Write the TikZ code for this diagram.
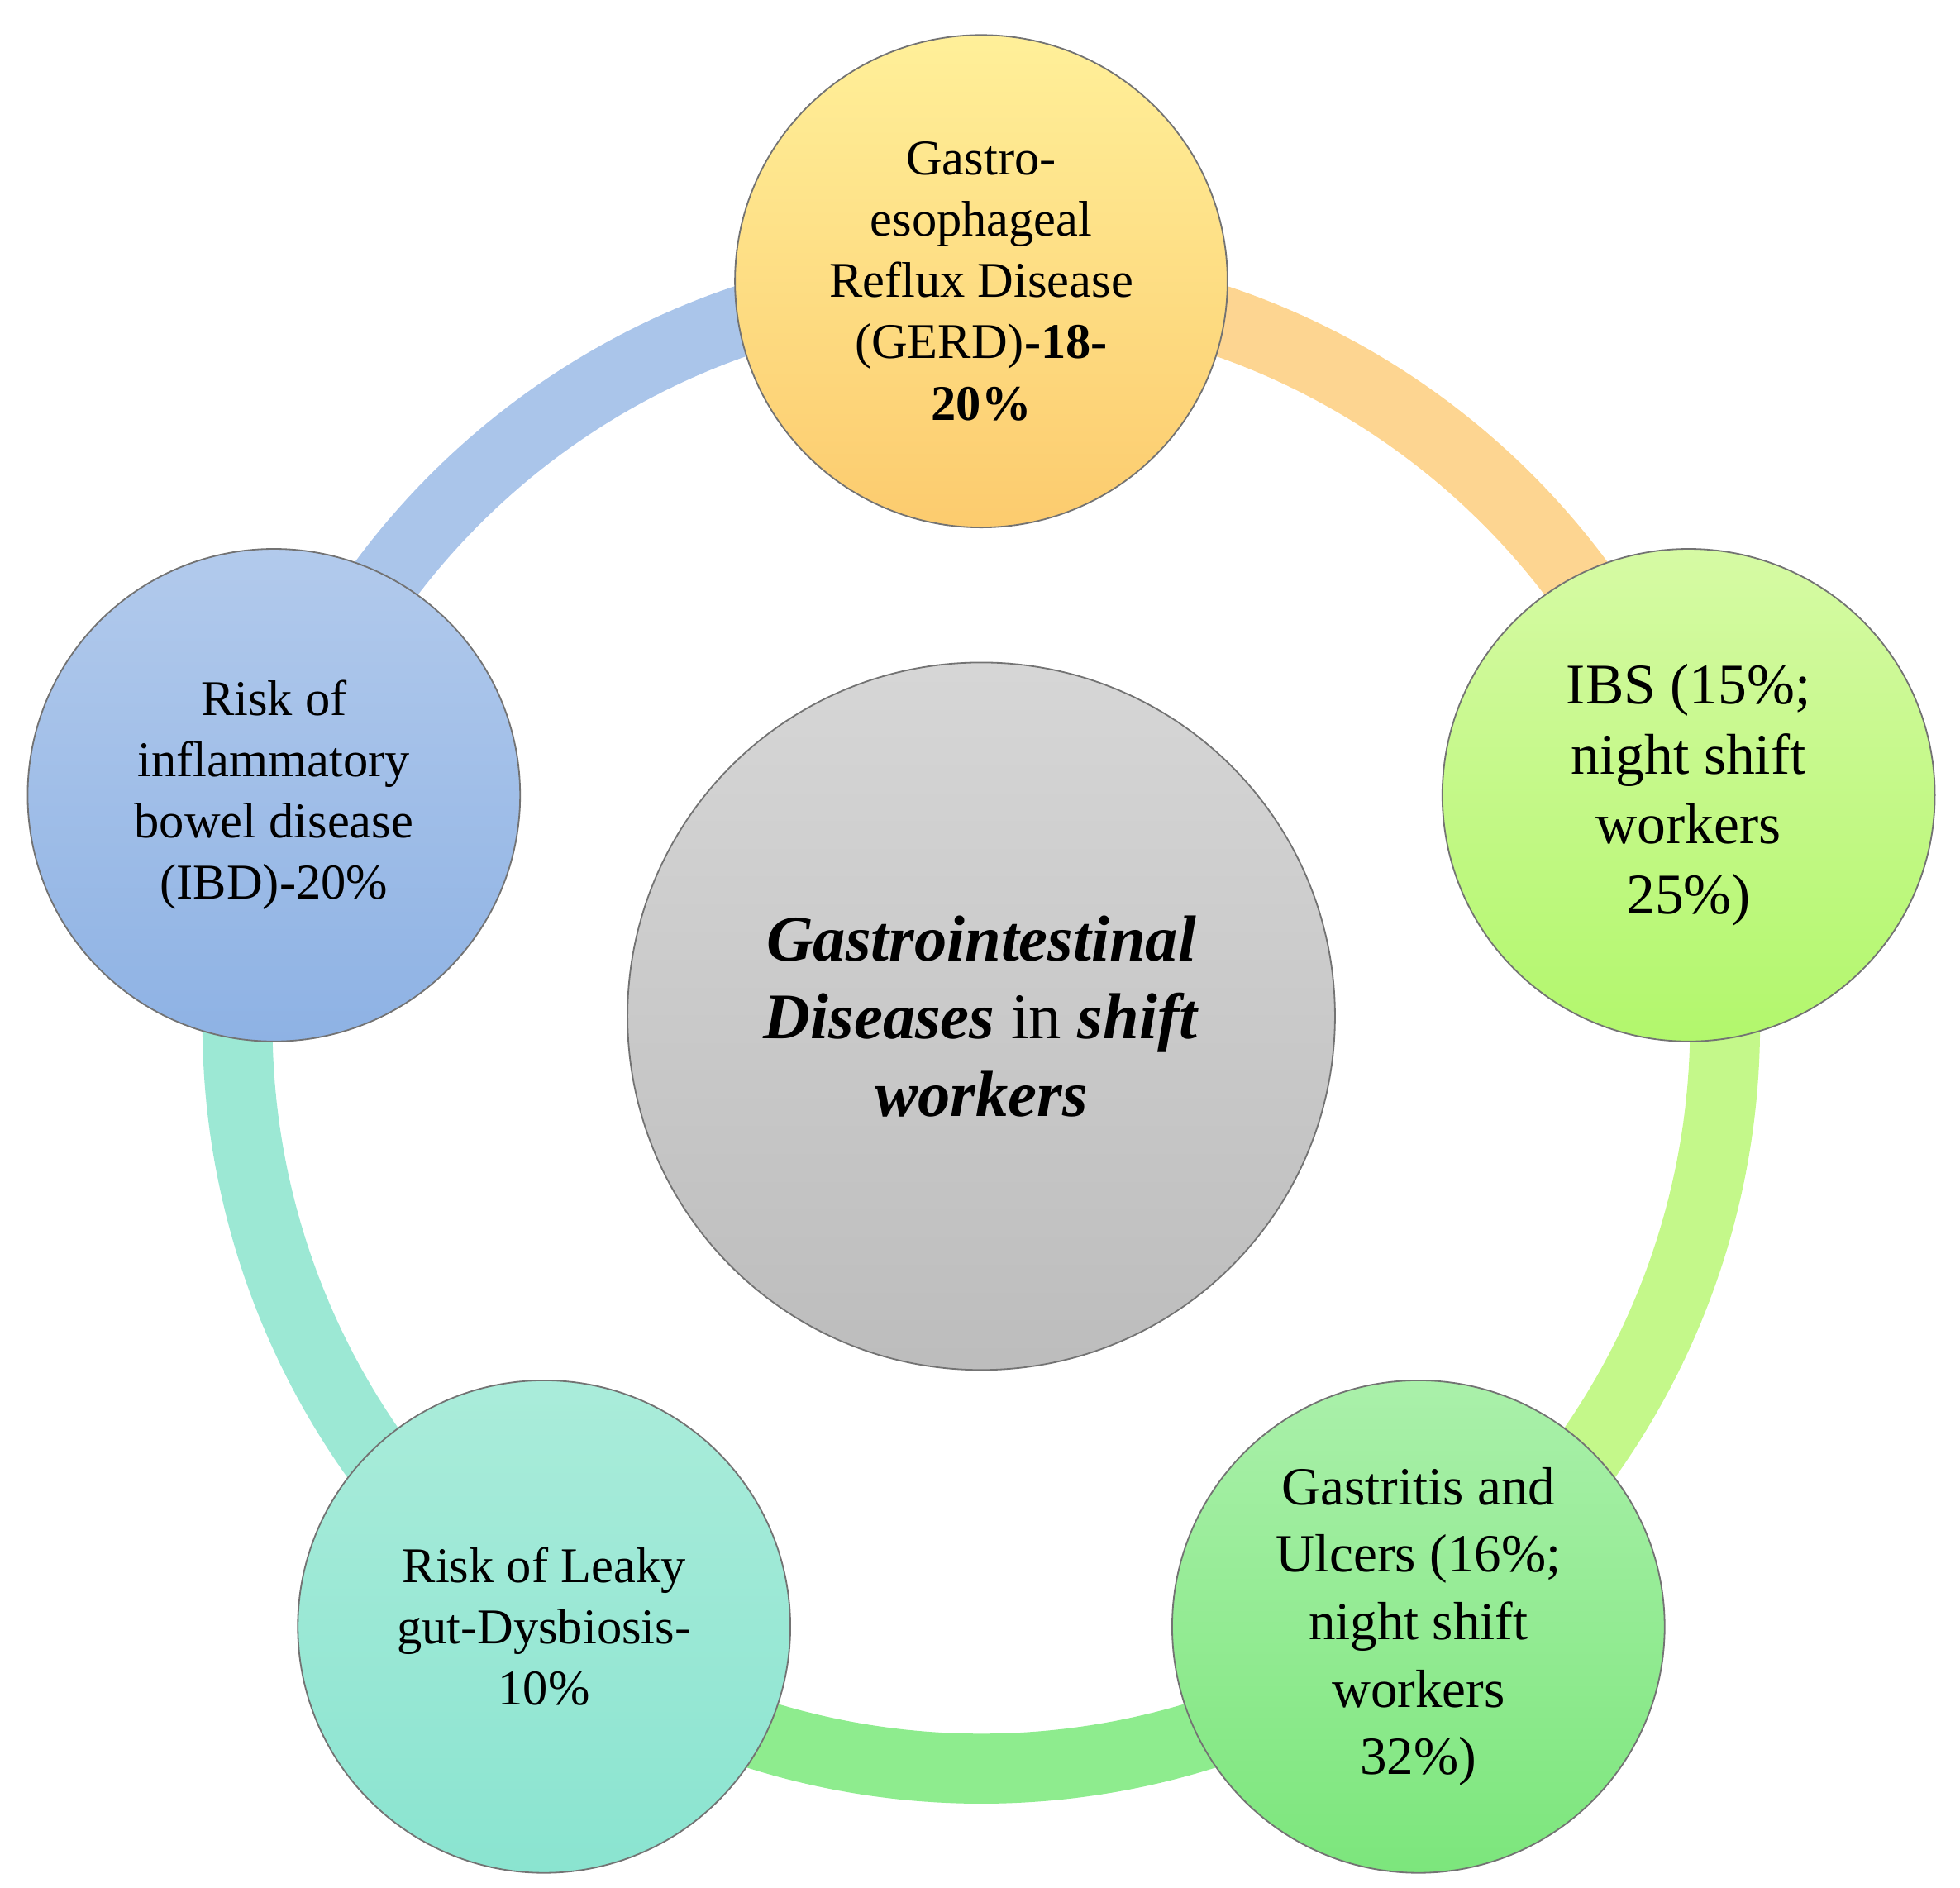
\documentclass[tikz,border=0pt]{standalone}
\usepackage{fontspec}
\setmainfont{Liberation Serif}
\begin{document}
\begin{tikzpicture}[x=1pt,y=1pt,
  bub/.style={circle,draw=black!55,line width=1.2pt,minimum size=394pt,inner sep=0pt,align=center,font=\fontsize{40}{49}\selectfont},
  seg/.style={line width=56pt}]
\useasboundingbox (-785,-690) rectangle (783,820);
\definecolor{cO}{HTML}{FDD591}\definecolor{cG}{HTML}{C4F88A}\definecolor{cG2}{HTML}{8EEC8E}
\definecolor{cT}{HTML}{9CE8D4}\definecolor{cB}{HTML}{AAC5EA}
\draw[seg,cO] (90:595) arc (90:18:595);
\draw[seg,cG] (18:595) arc (18:-54:595);
\draw[seg,cG2] (-54:595) arc (-54:-126:595);
\draw[seg,cT] (-126:595) arc (-126:-198:595);
\draw[seg,cB] (162:595) arc (162:90:595);
\node[bub,minimum size=566pt,top color=black!16,bottom color=black!26,font=\fontsize{52}{62}\selectfont] (c) at (0,7)
 {\textbf{\textit{Gastrointestinal}}\\\textbf{\textit{Diseases}} in \textbf{\textit{shift}}\\\textbf{\textit{workers}}};
\node[bub,top color=orange!30!yellow!40,bottom color={rgb,255:red,252;green,203;blue,110}] (g) at (90:595)
 {Gastro-\\esophageal\\Reflux Disease\\(GERD)\textbf{-18-}\\\textbf{20\%}};
\node[bub,top color={rgb,255:red,214;green,250;blue,164},bottom color={rgb,255:red,178;green,247;blue,108},font=\fontsize{46}{56}\selectfont] (i) at (18:595)
 {IBS (15\%;\\night shift\\workers\\25\%)};
\node[bub,top color={rgb,255:red,170;green,240;blue,170},bottom color={rgb,255:red,124;green,230;blue,124},font=\fontsize{43}{54}\selectfont] (u) at (-54:595)
 {Gastritis and\\Ulcers (16\%;\\night shift\\workers\\32\%)};
\node[bub,top color={rgb,255:red,170;green,236;blue,218},bottom color={rgb,255:red,138;green,228;blue,208}] (l) at (-126:595)
 {Risk of Leaky\\gut-Dysbiosis-\\10\%};
\node[bub,top color={rgb,255:red,178;green,202;blue,236},bottom color={rgb,255:red,142;green,178;blue,228}] (b) at (162:595)
 {Risk of\\inflammatory\\bowel disease\\(IBD)-20\%};
\end{tikzpicture}
\end{document}
